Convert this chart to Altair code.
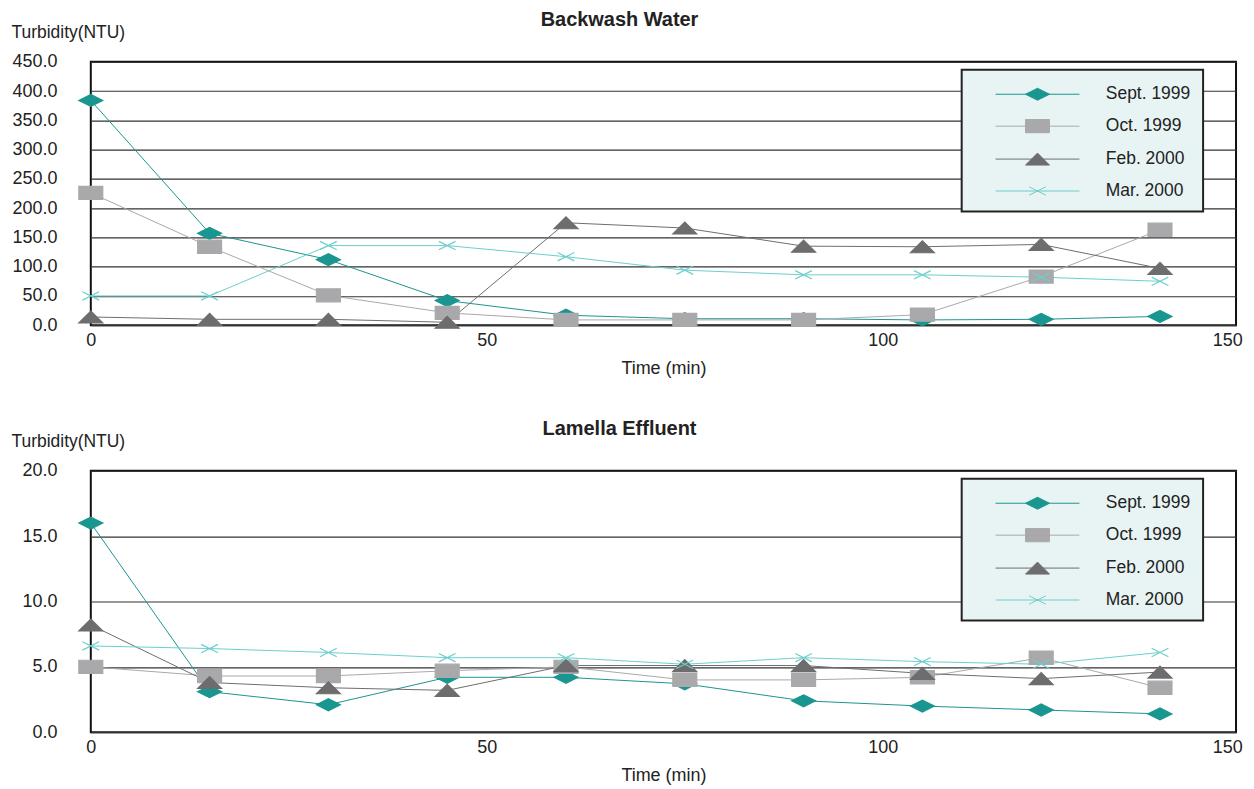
import altair as alt
import pandas as pd

# ---------------- data ----------------
times = [0, 15, 30, 45, 60, 75, 90, 105, 120, 135]
series = ["Sept. 1999", "Oct. 1999", "Feb. 2000", "Mar. 2000"]

bw_sept = [384, 157, 112, 42, 17, 11, 11, 9, 10, 15]
bw_oct = [226, 134, 51, 21, 9, 9, 9, 18, 83, 163]
bw_feb = [14, 10, 10, 5, 175, 166, 135, 134, 138, 97]
bw_mar = [50, 50, 136, 136, 117, 94, 86, 86, 82, 75]

le_sept = [16.0, 3.1, 2.1, 4.2, 4.2, 3.7, 2.4, 2.0, 1.7, 1.4]
le_oct = [5.0, 4.3, 4.3, 4.7, 5.0, 4.0, 4.0, 4.2, 5.7, 3.4]
le_feb = [8.2, 3.8, 3.4, 3.2, 5.1, 5.1, 5.1, 4.5, 4.1, 4.6]
le_mar = [6.6, 6.4, 6.1, 5.7, 5.7, 5.2, 5.7, 5.4, 5.2, 6.1]

x_tick_values = [0, 50, 100, 143.5]
x_tick_labels = ["0", "50", "100", "150"]
bw_y_ticks = [0, 50, 100, 150, 200, 250, 300, 350, 400, 450]
le_y_ticks = [0, 5, 10, 15, 20]

# ---------------- styles ----------------
FONT = "Liberation Sans"
line_colors = ["#1a9690", "#a9a9ab", "#6d6d6f", "#6ccfcc"]

# marker outlines in symbol units (x, y); None starts a new sub-path
marker_shapes = [
    ([(-1, 0), (0, -0.5), (1, 0), (0, 0.5)], True),
    ([(-1, -0.55), (1, -0.55), (1, 0.55), (-1, 0.55)], True),
    ([(-1, 0.5), (0, -0.5), (1, 0.5)], True),
    ([(-0.7, -0.35), (0.7, 0.35), None, (-0.7, 0.35), (0.7, -0.35)], False),
]


def to_path(pts, closed, dx=0.0):
    out, start = "", True
    for p in pts:
        if p is None:
            start = True
            continue
        out += ("M" if start else "L") + f"{p[0] + dx:.3f},{p[1]:.3f}"
        start = False
    return out + ("Z" if closed else "")


marker_paths = [to_path(p, c) for p, c in marker_shapes]
LEG_DX = 20 / 12  # legend symbol drawn 20px right of its anchor
legend_paths = [
    to_path([(-3.5, 0), (3.5, 0)], False, LEG_DX) + to_path(p, c, LEG_DX)
    for p, c in marker_shapes
]
X_MAX = 144.6

label_expr = "{" + ",".join(
    f"'{v}':'{l}'" for v, l in zip(x_tick_values, x_tick_labels)
) + "}[datum.value + '']"


def panel(values, ymax, yticks, title, height):
    rows = []
    for s, vals in zip(series, values):
        for t, v in zip(times, vals):
            rows.append({"time": t, "turbidity": v, "series": s, "leg": s})
    df = pd.DataFrame(rows)

    x = alt.X(
        "time:Q",
        scale=alt.Scale(domain=[0, X_MAX], nice=False, zero=False),
        axis=alt.Axis(
            values=x_tick_values,
            labelExpr=label_expr,
            labelFlush=False,
            title="Time (min)",
            grid=False, ticks=False, domain=False,
            labelPadding=6, titlePadding=10,
            labelFontSize=18, titleFontSize=18, titleFontWeight="normal",
            labelFont=FONT, titleFont=FONT,
            labelColor="#222", titleColor="#222",
        ),
    )
    y = alt.Y(
        "turbidity:Q",
        scale=alt.Scale(domain=[0, ymax], nice=False),
        axis=alt.Axis(
            values=yticks, format=".1f",
            title="Turbidity(NTU)",
            titleAngle=0, titleAlign="left", titleBaseline="bottom",
            titleX=-80, titleY=-20,
            grid=True, gridColor="#333", gridWidth=1.2,
            ticks=False, domain=False, labelPadding=34,
            labelFontSize=18, titleFontSize=17.5, titleFontWeight="normal",
            labelFont=FONT, titleFont=FONT,
            labelColor="#222", titleColor="#222",
        ),
    )

    lines = alt.Chart(df).mark_line(strokeWidth=1).encode(
        x=x, y=y,
        color=alt.Color("series:N", scale=alt.Scale(domain=series, range=line_colors), legend=None),
    )
    points = alt.Chart(df).mark_point(filled=True, size=576, strokeWidth=1.2, opacity=1).encode(
        x=x, y=y,
        fill=alt.Fill("series:N", scale=alt.Scale(domain=series, range=line_colors), legend=None),
        stroke=alt.Stroke("series:N", scale=alt.Scale(domain=series, range=line_colors), legend=None),
        shape=alt.Shape("series:N", scale=alt.Scale(domain=series, range=marker_paths), legend=None),
    )

    leg_def = alt.Legend(
        orient="none", legendX=873, legendY=8, title=None,
        fillColor="#e8f4f4", strokeColor="#222",
        padding=12, rowPadding=11,
        symbolOffset=31.5, labelOffset=76,
        symbolSize=576, symbolStrokeWidth=1, symbolOpacity=1,
        labelFontSize=17.5, labelFont=FONT, labelColor="#222",
    )
    legend_layer = alt.Chart(df).mark_point(filled=True, size=576, strokeWidth=1, opacity=1, clip=True).encode(
        x=alt.value(-3000), y=alt.value(-3000),
        fill=alt.Fill("leg:N", scale=alt.Scale(domain=series, range=line_colors), legend=leg_def),
        stroke=alt.Stroke("leg:N", scale=alt.Scale(domain=series, range=line_colors), legend=leg_def),
        shape=alt.Shape("leg:N", scale=alt.Scale(domain=series, range=legend_paths), legend=leg_def),
    )

    return alt.layer(lines, points, legend_layer).resolve_scale(
        fill="independent", stroke="independent", shape="independent"
    ).properties(
        width=1148, height=height,
        title=alt.TitleParams(
            title, fontSize=20, fontWeight="bold", font=FONT, color="#222",
            anchor="middle", dx=-44, offset=-6,
        ),
    )


top = panel([bw_sept, bw_oct, bw_feb, bw_mar], 450, bw_y_ticks, "Backwash Water", 264)
bottom = panel([le_sept, le_oct, le_feb, le_mar], 20, le_y_ticks, "Lamella Effluent", 262)

chart = alt.vconcat(top, bottom, spacing=40).properties(
    padding={"left": 2, "top": 0, "right": 2, "bottom": 2}
).configure_view(
    stroke="#111", strokeWidth=2
).configure_legend(
    strokeWidth=2
)

chart.save("out.html", embed_options={"renderer": "svg", "actions": False})
